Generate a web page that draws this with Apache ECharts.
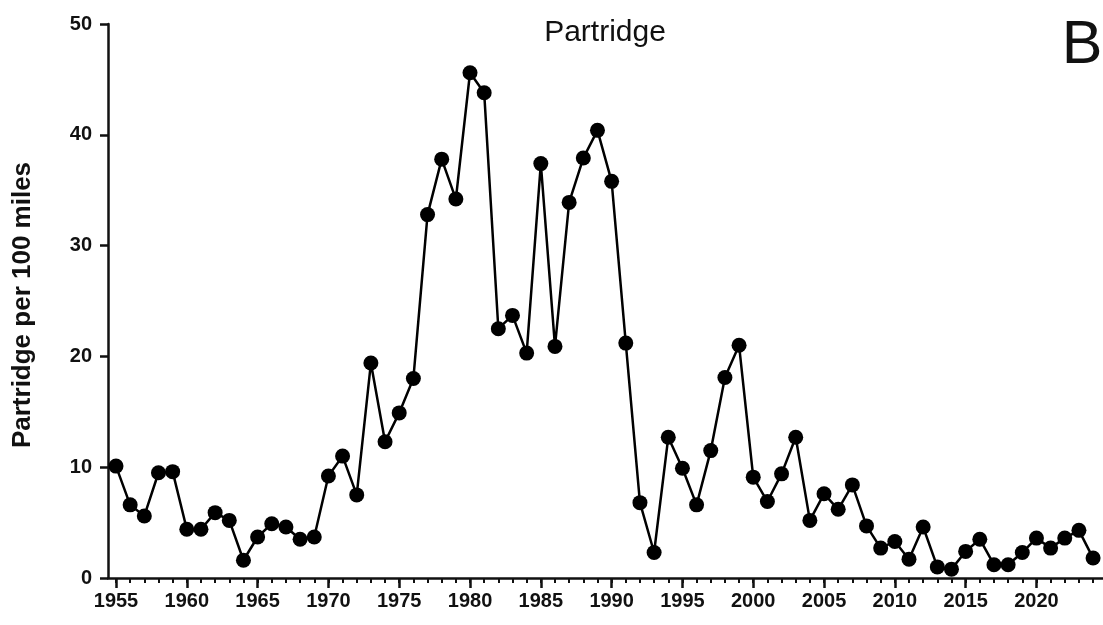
<!DOCTYPE html>
<html>
<head>
<meta charset="utf-8">
<script src="https://cdn.jsdelivr.net/npm/echarts@6/dist/echarts.min.js"></script>
<style>
  html, body { margin: 0; padding: 0; background: #fff; }
  #main { width: 1103px; height: 625px; }
</style>
</head>
<body>
<div id="main"></div>
<script>
const years = [];
for (let y = 1955; y <= 2024; y++) years.push(y);

const partridge = [
  10.1, 6.6, 5.6, 9.5, 9.6, 4.4, 4.4, 5.9, 5.2, 1.6,
  3.7, 4.9, 4.6, 3.5, 3.7, 9.2, 11.0, 7.5, 19.4, 12.3,
  14.9, 18.0, 32.8, 37.8, 34.2, 45.6, 43.8, 22.5, 23.7, 20.3,
  37.4, 20.9, 33.9, 37.9, 40.4, 35.8, 21.2, 6.8, 2.3, 12.7,
  9.9, 6.6, 11.5, 18.1, 21.0, 9.1, 6.9, 9.4, 12.7, 5.2,
  7.6, 6.2, 8.4, 4.7, 2.7, 3.3, 1.7, 4.6, 1.0, 0.8,
  2.4, 3.5, 1.2, 1.2, 2.3, 3.6, 2.7, 3.6, 4.3, 1.8
];

const majorYears = [1955, 1960, 1965, 1970, 1975, 1980, 1985, 1990, 1995, 2000, 2005, 2010, 2015, 2020];
const yTicks = [0, 10, 20, 30, 40, 50];

const points = years.map((y, i) => [y, partridge[i]]);

const font = '"Liberation Sans", Arial, sans-serif';

let myChart = echarts.init(document.getElementById("main"));
myChart.setOption({
  animation: false,
  backgroundColor: "#fff",
  grid: { left: 108, right: 0, top: 24, bottom: 47, containLabel: false },
  graphic: [
    {
      type: "text", x: 605, y: 32.5,
      style: { text: "Partridge", font: "30px " + font, fill: "#111", textAlign: "center", textVerticalAlign: "middle" }
    },
    {
      type: "text", x: 1082, y: 46,
      style: { text: "B", font: "61px " + font, fill: "#111", textAlign: "center", textVerticalAlign: "middle" }
    },
    {
      type: "text", x: 23, y: 305, rotation: Math.PI / 2,
      style: { text: "Partridge per 100 miles", font: "bold 26px " + font, fill: "#111", textAlign: "center", textVerticalAlign: "middle" }
    }
  ],
  xAxis: [
    {
      type: "value", min: 1954.435, max: 2024.7, position: "bottom",
      splitLine: { show: false },
      axisLine: { lineStyle: { color: "#111", width: 2.5 } },
      axisTick: { customValues: majorYears, length: 10, lineStyle: { color: "#111", width: 2.5 } },
      axisLabel: {
        customValues: majorYears, margin: 13, color: "#111",
        fontFamily: font, fontWeight: "bold", fontSize: 20,
        formatter: v => String(v)
      }
    },
    {
      type: "value", min: 1954.435, max: 2024.7, position: "bottom",
      splitLine: { show: false },
      axisLine: { show: false },
      axisTick: { customValues: years, length: 5, lineStyle: { color: "#111", width: 2 } },
      axisLabel: { show: false }
    }
  ],
  yAxis: {
    type: "value", min: 0, max: 50, interval: 10,
    splitLine: { show: false },
    axisLine: { show: true, lineStyle: { color: "#111", width: 2.5 } },
    axisTick: { show: true, length: 8, lineStyle: { color: "#111", width: 2.5 } },
    axisLabel: {
      customValues: yTicks, margin: 16, color: "#111",
      fontFamily: font, fontWeight: "bold", fontSize: 20
    }
  },
  series: [
    {
      type: "line",
      data: points,
      xAxisIndex: 0,
      symbol: "circle",
      symbolSize: 15,
      lineStyle: { color: "#000", width: 2.5 },
      itemStyle: { color: "#000" }
    }
  ]
});
</script>
</body>
</html>
